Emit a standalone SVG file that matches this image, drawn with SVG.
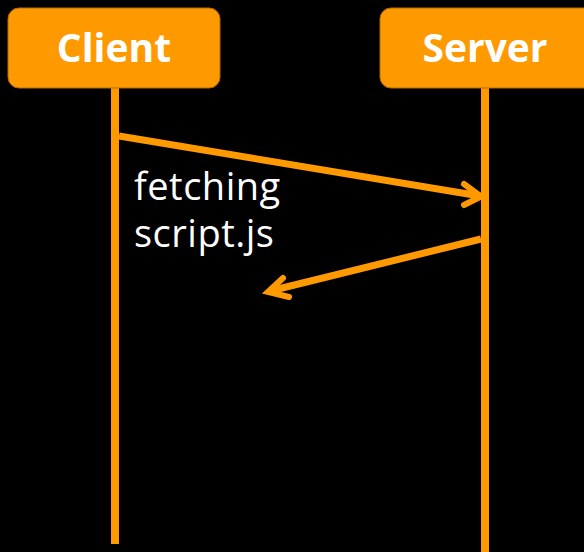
<svg xmlns="http://www.w3.org/2000/svg" width="584" height="552" viewBox="0 0 584 552">
<style>
.box{fill:#ff9900;stroke:#b36b00;stroke-width:1}
.life{stroke:#ff9900;stroke-width:8}
.msg{stroke:#ff9900;stroke-width:7;fill:none}
.head{stroke:#ff9900;stroke-width:6;fill:none;stroke-linecap:round;stroke-linejoin:miter}
.title{font-family:"Open Sans","Noto Sans",sans-serif;font-weight:bold;font-size:39px;fill:#fff;text-anchor:middle}
.lbl{font-family:"Open Sans","Noto Sans",sans-serif;font-size:38px;letter-spacing:0.5px;fill:#fff}
</style>
<rect width="584" height="552" fill="#000"/>
<g id="lifelines">
<line class="life" x1="115" y1="86" x2="115" y2="544"/>
<line class="life" x1="485" y1="86" x2="485" y2="552"/>
</g>
<g id="client">
<rect class="box" x="8" y="8" width="212" height="80" rx="11"/>
<text class="title" x="114" y="62">Client</text>
</g>
<g id="server">
<rect class="box" x="380" y="8" width="220" height="80" rx="11"/>
<text class="title" x="485" y="62">Server</text>
</g>
<g id="connectors">
<line class="msg" x1="119" y1="136" x2="480" y2="196"/>
<polyline class="head" points="464,184 481,196.5 464,205"/>
<line class="msg" x1="481" y1="239" x2="270" y2="291"/>
<polyline class="head" points="283,278 268,292 289,297"/>
</g>
<g id="label">
<text class="lbl" x="134" y="200">fetching</text>
<text class="lbl" x="134" y="247">script.js</text>
</g>
</svg>
